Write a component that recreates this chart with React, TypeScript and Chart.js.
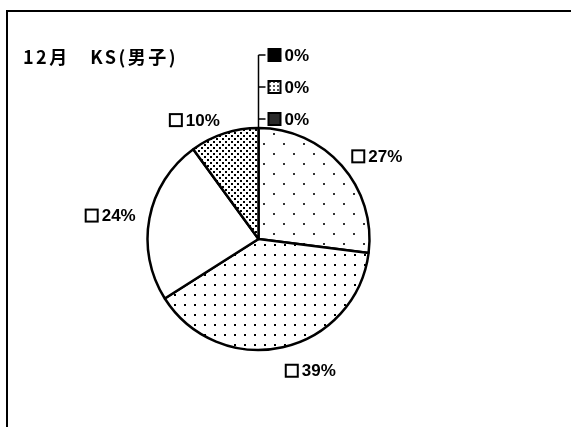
import React, { useEffect, useRef } from "react";
import { Chart, registerables } from "chart.js";

Chart.register(...registerables);

const TITLE = "12月　KS(男子)";
const categories = ["区分1", "区分2", "区分3", "区分4", "区分5", "区分6", "区分7"];
const values = [27, 39, 24, 10, 0, 0, 0];
const labelTexts = ["27%", "39%", "24%", "10%", "0%", "0%", "0%"];

function makePattern(kind: string): CanvasPattern | string {
  const c = document.createElement("canvas");
  const g = c.getContext("2d");
  if (!g) return "#fff";
  if (kind === "sparse") {
    c.width = 20;
    c.height = 20;
    g.fillStyle = "#fff";
    g.fillRect(0, 0, 20, 20);
    g.fillStyle = "#333";
    g.fillRect(3, 3, 2, 2);
    g.fillRect(13, 13, 2, 2);
  } else if (kind === "dense") {
    c.width = 10;
    c.height = 10;
    g.fillStyle = "#fff";
    g.fillRect(0, 0, 10, 10);
    g.fillStyle = "#000";
    g.fillRect(4, 4, 2, 2);
  } else if (kind === "fine") {
    c.width = 6;
    c.height = 6;
    g.fillStyle = "#fff";
    g.fillRect(0, 0, 6, 6);
    g.fillStyle = "#000";
    g.fillRect(0, 0, 2, 2);
    g.fillRect(3, 3, 2, 2);
  } else if (kind === "keydots") {
    c.width = 4;
    c.height = 4;
    g.fillStyle = "#fff";
    g.fillRect(0, 0, 4, 4);
    g.fillStyle = "#555";
    g.fillRect(1, 1, 2, 2);
  }
  const p = g.createPattern(c, "repeat");
  return p || "#fff";
}

const LABEL_FONT = 'bold 17px "Liberation Sans", Arial, sans-serif';

function drawKeyLabel(
  ctx: CanvasRenderingContext2D,
  x: number,
  y: number,
  text: string,
  fill: string | CanvasPattern,
  align: "left" | "right"
) {
  ctx.save();
  ctx.font = LABEL_FONT;
  const tw = ctx.measureText(text).width;
  const box = 12;
  const gap = 4;
  const total = box + gap + tw;
  const left = align === "left" ? x : x - total;
  ctx.fillStyle = fill as any;
  ctx.fillRect(left, y - box / 2, box, box);
  ctx.strokeStyle = "#000";
  ctx.lineWidth = 2;
  ctx.strokeRect(left, y - box / 2, box, box);
  ctx.fillStyle = "#000";
  ctx.textAlign = "left";
  ctx.textBaseline = "middle";
  ctx.fillText(text, left + box + gap, y + 1);
  ctx.restore();
}

export default function App() {
  const ref = useRef<HTMLCanvasElement | null>(null);

  useEffect(() => {
    if (!ref.current) return;
    const sparse = makePattern("sparse");
    const dense = makePattern("dense");
    const fine = makePattern("fine");
    const keyDots = makePattern("keydots");
    const sliceFills = [sparse, dense, "#ffffff", fine, "#000000", keyDots, "#2a2a2a"];
    const keyFills = ["#fff", "#fff", "#fff", "#fff", "#000", keyDots, "#2a2a2a"];

    const decor = {
      id: "decor",
      beforeDraw(chart: any) {
        const ctx = chart.ctx as CanvasRenderingContext2D;
        ctx.save();
        ctx.fillStyle = "#fff";
        ctx.fillRect(0, 0, chart.width, chart.height);
        ctx.fillStyle = "#000";
        ctx.fillRect(6, 10, chart.width, 2);
        ctx.fillRect(6, 10, 2, chart.height);
        ctx.restore();
      },
      afterDraw(chart: any) {
        const ctx = chart.ctx as CanvasRenderingContext2D;
        ctx.save();
        ctx.fillStyle = "#000";
        ctx.font = 'bold 18px "Noto Sans CJK JP", sans-serif';
        (ctx as any).letterSpacing = "2.5px";
        ctx.textAlign = "left";
        ctx.textBaseline = "alphabetic";
        ctx.fillText(TITLE, 23, 64);
        ctx.restore();

        const meta = chart.getDatasetMeta(0);
        const zeros: number[] = [];
        let cx = 0, cy = 0, R = 0;
        meta.data.forEach((arc: any, i: number) => {
          const p = arc.getProps(["x", "y", "startAngle", "endAngle", "outerRadius"], true);
          cx = p.x; cy = p.y; R = p.outerRadius;
          if (values[i] === 0) { zeros.push(i); return; }
          const mid = (p.startAngle + p.endAngle) / 2;
          const d = p.outerRadius + 14;
          const ax = p.x + Math.cos(mid) * d;
          const ay = p.y + Math.sin(mid) * d + 10 * Math.max(0, Math.sin(mid));
          drawKeyLabel(ctx, ax, ay, labelTexts[i], keyFills[i], Math.cos(mid) >= 0 ? "left" : "right");
        });

        if (zeros.length) {
          const topY = cy - R;
          const spacing = 32;
          const rowY = (k: number) => topY - 9 - (zeros.length - 1 - k) * spacing;
          ctx.save();
          ctx.strokeStyle = "#000";
          ctx.lineWidth = 1.5;
          ctx.beginPath();
          ctx.moveTo(cx, topY);
          ctx.lineTo(cx, rowY(0));
          zeros.forEach((_, k) => {
            ctx.moveTo(cx, rowY(k));
            ctx.lineTo(cx + 7, rowY(k));
          });
          ctx.stroke();
          ctx.restore();
          zeros.forEach((idx, k) => {
            drawKeyLabel(ctx, cx + 10, rowY(k), labelTexts[idx], keyFills[idx], "left");
          });
        }
      },
    };

    const chart = new Chart(ref.current, {
      type: "pie",
      data: {
        labels: categories,
        datasets: [
          {
            data: values,
            backgroundColor: sliceFills as any,
            borderColor: "#000",
            borderWidth: 2.5,
          },
        ],
      },
      options: {
        responsive: false,
        animation: false,
        layout: { padding: { left: 145.25, top: 126.75, right: 199.25, bottom: 75.75 } },
        plugins: {
          legend: { display: false },
          tooltip: { enabled: false },
          title: { display: false },
        },
      },
      plugins: [decor],
    });
    return () => chart.destroy();
  }, []);

  return (
    <div style={{ position: "absolute", left: 0, top: 0, width: 571, height: 427 }}>
      <canvas ref={ref} width={571} height={427} style={{ width: 571, height: 427, display: "block" }} />
    </div>
  );
}
